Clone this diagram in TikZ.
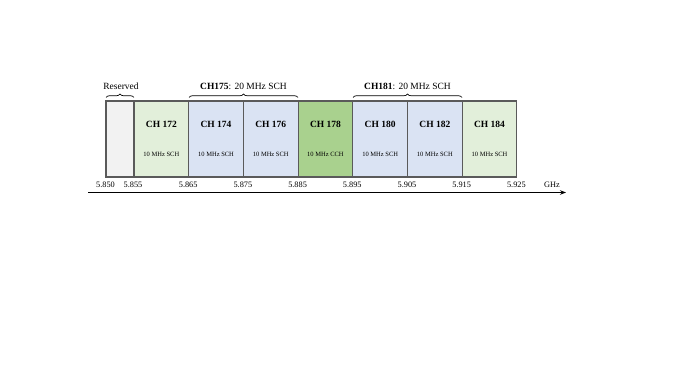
\documentclass[tikz,border=0pt]{standalone}
\usepackage{fontspec}
\setmainfont{Liberation Serif}
\usetikzlibrary{decorations.pathreplacing,arrows.meta}
\definecolor{resgray}{HTML}{F2F2F2}
\definecolor{lgreen}{HTML}{E2EFDA}
\definecolor{lblue}{HTML}{DAE3F3}
\definecolor{dgreen}{HTML}{A9D18E}
\definecolor{edgegray}{HTML}{5A5A5A}
\tikzset{
  chbox/.style={draw=edgegray, line width=1.1pt, inner sep=0pt, outer sep=0pt,
    minimum height=76pt, anchor=north west},
  full/.style={chbox, minimum width=54.7pt},
  half/.style={chbox, minimum width=28pt},
  chname/.style={font=\fontsize{9.5}{11}\selectfont\bfseries, inner sep=0pt},
  chtype/.style={font=\fontsize{6.5}{8}\selectfont, inner sep=0pt},
  freq/.style={font=\fontsize{8.3}{10}\selectfont, inner sep=0pt},
  bracelbl/.style={font=\fontsize{9.5}{11}\selectfont, inner sep=0pt},
  brc/.style={decorate, decoration={brace, amplitude=3.5pt}, line width=0.7pt}
}
\begin{document}
\begin{tikzpicture}[x=1pt,y=-1pt]
\useasboundingbox (0,0) rectangle (677,379);
% boxes
\node[half, fill=resgray] (res) at (106,101) {};
\node[full, fill=lgreen] (c172) at (134,101) {};
\node[full, fill=lblue] (c174) at (188.7,101) {};
\node[full, fill=lblue] (c176) at (243.4,101) {};
\node[full, fill=dgreen] (c178) at (298.1,101) {};
\node[full, fill=lblue] (c180) at (352.8,101) {};
\node[full, fill=lblue] (c182) at (407.5,101) {};
\node[full, fill=lgreen] (c184) at (462.2,101) {};
% texts
\foreach \n/\t/\k in {c172/172/SCH, c174/174/SCH, c176/176/SCH, c178/178/CCH, c180/180/SCH, c182/182/SCH, c184/184/SCH}{
  \node[chname] (\n-name) at ([yshift=15pt]\n.center) {CH \t};
  \node[chtype] (\n-type) at ([yshift=-15pt]\n.center) {10 MHz \k};
}
% axis
\coordinate (axL) at (88,192.5);
\coordinate (axR) at (566,192.5);
\draw[line width=1.1pt, -{Stealth[length=6pt,width=4.5pt]}] (axL) -- (axR);
% frequency labels
\node[freq] (f0) at (105.5,185) {5.850};
\node[freq] (f1) at (133,185) {5.855};
\node[freq] (f2) at (188.2,185) {5.865};
\node[freq] (f3) at (242.9,185) {5.875};
\node[freq] (f4) at (297.6,185) {5.885};
\node[freq] (f5) at (352.3,185) {5.895};
\node[freq] (f6) at (407,185) {5.905};
\node[freq] (f7) at (461.7,185) {5.915};
\node[freq] (f8) at (516.4,185) {5.925};
\node[freq] (ghz) at (552,185) {GHz};
% braces
\coordinate (b0a) at (106,97.5);
\coordinate (b0b) at (134,97.5);
\draw[brc] (b0a) -- (b0b);
\node[bracelbl] (lres) at (121,86.5) {Reserved};
\coordinate (b1a) at (189,97.5);
\coordinate (b1b) at (298,97.5);
\draw[brc] (b1a) -- (b1b);
\node[bracelbl] (l175) at (243.5,86) {\textbf{CH175}: 20 MHz SCH};
\coordinate (b2a) at (353,97.5);
\coordinate (b2b) at (462,97.5);
\draw[brc] (b2a) -- (b2b);
\node[bracelbl] (l181) at (407.5,86) {\textbf{CH181}: 20 MHz SCH};
\end{tikzpicture}
\end{document}
